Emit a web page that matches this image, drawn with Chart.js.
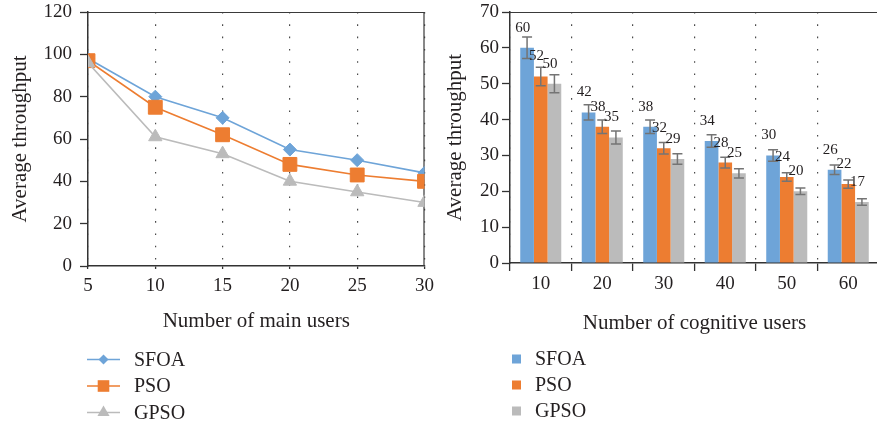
<!DOCTYPE html>
<html>
<head>
<meta charset="utf-8">
<script src="https://cdn.jsdelivr.net/npm/chart.js@4.4.1/dist/chart.umd.min.js"></script>
<style>
  html, body { margin: 0; padding: 0; background: #fff; overflow: hidden; width: 877px; height: 428px; }
  .panel { position: absolute; top: 0; }
  #panelMain { left: 0; width: 440px; height: 428px; }
  #panelCog { left: 440px; width: 441px; height: 428px; }
</style>
</head>
<body>
<div class="panel" id="panelMain"><canvas id="mainChart" width="440" height="428"></canvas></div>
<div class="panel" id="panelCog"><canvas id="cogChart" width="441" height="428"></canvas></div>
<script>
// ---- data ----
const algorithms = ['SFOA', 'PSO', 'GPSO'];

// throughput vs. number of main users
const mainUsers = [5, 10, 15, 20, 25, 30];
const sfoaMain = [98, 80, 70, 55, 50, 44];
const psoMain  = [97, 75, 62, 48, 43, 40];
const gpsoMain = [96, 61, 53, 40, 35, 30];

// throughput vs. number of cognitive users
const cognitiveUsers = ['10', '20', '30', '40', '50', '60'];
const sfoaCog = [60, 42, 38, 34, 30, 26];
const psoCog  = [52, 38, 32, 28, 24, 22];
const gpsoCog = [50, 35, 29, 25, 20, 17];
const sfoaErr = [3.0, 2.1, 1.9, 1.75, 1.6, 1.35];
const psoErr  = [2.6, 1.9, 1.6, 1.5, 1.2, 1.15];
const gpsoErr = [2.5, 1.8, 1.45, 1.3, 0.9, 0.9];

// ---- styling ----
const BLUE = '#6EA4D8', ORANGE = '#ED7D31', GRAY = '#BBBBBB';
const INK = '#231f20', AXIS = '#333333', DOTS = '#4a4a4a';
const SERIF = "'Liberation Serif', 'Times New Roman', serif";

Chart.defaults.font.family = SERIF;
Chart.defaults.color = INK;
Chart.defaults.animation = false;

function drawMarker(ctx, style, x, y, r) {
  ctx.beginPath();
  if (style === 'rectRot') {
    ctx.moveTo(x, y - r); ctx.lineTo(x + r, y); ctx.lineTo(x, y + r); ctx.lineTo(x - r, y);
  } else if (style === 'rect') {
    const s = r * Math.SQRT1_2;
    ctx.rect(x - s, y - s, 2 * s, 2 * s);
  } else if (style === 'triangle') {
    for (let k = 0; k < 3; k++) {
      const a = -Math.PI / 2 + k * 2 * Math.PI / 3;
      const px = x + r * Math.cos(a), py = y + r * Math.sin(a);
      if (k === 0) ctx.moveTo(px, py); else ctx.lineTo(px, py);
    }
  }
  ctx.closePath();
  ctx.fill();
}

// keep the value axis from pushing the plot area down
const trimTop = s => { s.paddingTop = Math.min(s.paddingTop || 0, 11); };

// thin frame along the top (and optionally right) edge of the plot area
const plotFrame = {
  id: 'plotFrame',
  beforeDatasetsDraw(chart, args, opts) {
    const { ctx, chartArea: a } = chart;
    ctx.save();
    ctx.strokeStyle = opts.color || AXIS;
    ctx.lineWidth = opts.width || 1;
    ctx.beginPath();
    ctx.moveTo(a.left, a.top + 0.5);
    ctx.lineTo(a.right, a.top + 0.5);
    if (opts.right) {
      ctx.moveTo(a.right - 0.5, a.top);
      ctx.lineTo(a.right - 0.5, a.bottom);
    }
    ctx.stroke();
    ctx.restore();
  }
};

// stacked legend under each panel
const stackedLegend = {
  id: 'stackedLegend',
  afterDraw(chart, args, opts) {
    const { ctx } = chart;
    ctx.save();
    ctx.font = opts.font;
    ctx.textBaseline = 'middle';
    ctx.textAlign = 'left';
    chart.data.datasets.forEach((ds, i) => {
      const y = opts.y0 + i * opts.step;
      ctx.fillStyle = ds.backgroundColor;
      if (opts.kind === 'line') {
        ctx.strokeStyle = ds.borderColor;
        ctx.lineWidth = 1.6;
        ctx.beginPath();
        ctx.moveTo(opts.x0, y);
        ctx.lineTo(opts.x1, y);
        ctx.stroke();
        drawMarker(ctx, ds.pointStyle, (opts.x0 + opts.x1) / 2, y, opts.markerRadius[i]);
      } else {
        ctx.fillRect(opts.x0, y - opts.box / 2, opts.box, opts.box);
      }
      ctx.fillStyle = INK;
      ctx.fillText(ds.label, opts.textX, y + 1);
    });
    ctx.restore();
  }
};

// error bars and value labels for the grouped bars
const barAnnotations = {
  id: 'barAnnotations',
  afterDatasetsDraw(chart, args, opts) {
    const { ctx } = chart;
    const yScale = chart.scales.y;
    const errs = opts.errors;
    ctx.save();
    ctx.strokeStyle = '#747474';
    ctx.lineWidth = 1.5;
    chart.data.datasets.forEach((ds, di) => {
      chart.getDatasetMeta(di).data.forEach((bar, i) => {
        const v = ds.data[i], e = errs[di][i];
        const yt = yScale.getPixelForValue(v + e);
        const yb = yScale.getPixelForValue(v - e);
        const x = bar.x, c = 5;
        ctx.beginPath();
        ctx.moveTo(x, yt); ctx.lineTo(x, yb);
        ctx.moveTo(x - c, yt); ctx.lineTo(x + c, yt);
        ctx.moveTo(x - c, yb); ctx.lineTo(x + c, yb);
        ctx.stroke();
      });
    });
    ctx.font = "15px " + SERIF;
    ctx.fillStyle = INK;
    ctx.textAlign = 'center';
    ctx.textBaseline = 'middle';
    chart.data.datasets.forEach((ds, di) => {
      chart.getDatasetMeta(di).data.forEach((bar, i) => {
        const left = bar.x - bar.width / 2;
        ctx.fillText(String(ds.data[i]), left + 2.5, bar.y - 20);
      });
    });
    ctx.restore();
  }
};

// ---- left panel: line chart ----
const toPoints = arr => arr.map((v, i) => ({ x: mainUsers[i], y: v }));
const lineStyles = [
  { color: BLUE, point: 'rectRot', r: 6.5, order: 3 },
  { color: ORANGE, point: 'rect', r: 9.8, order: 2 },
  { color: GRAY, point: 'triangle', r: 7.7, order: 1 }
];
const mainSeries = [sfoaMain, psoMain, gpsoMain];

new Chart(document.getElementById('mainChart'), {
  type: 'line',
  data: {
    datasets: mainSeries.map((s, i) => ({
      label: algorithms[i],
      data: toPoints(s),
      borderColor: lineStyles[i].color,
      backgroundColor: lineStyles[i].color,
      borderWidth: 1.6,
      pointStyle: lineStyles[i].point,
      pointRadius: lineStyles[i].r,
      pointBackgroundColor: lineStyles[i].color,
      pointBorderColor: lineStyles[i].color,
      pointBorderWidth: 1,
      tension: 0,
      order: lineStyles[i].order
    }))
  },
  options: {
    responsive: false,
    animation: false,
    layout: { padding: { top: 12, right: 15, left: 0, bottom: 0 } },
    plugins: {
      legend: { display: false },
      tooltip: { enabled: false },
      plotFrame: { right: true, color: '#3a3a3a', width: 1.2 },
      stackedLegend: {
        kind: 'line', x0: 87, x1: 120, textX: 134, y0: 359.5, step: 26.5,
        markerRadius: [5, 8.2, 7], font: "20px " + SERIF
      }
    },
    scales: {
      x: {
        type: 'linear', min: 5, max: 30,
        afterFit: s => { s.height = 162; },
        ticks: { stepSize: 5, padding: 6, font: { size: 19 }, color: INK },
        grid: { color: DOTS, lineWidth: 1.2, tickLength: 3, tickColor: AXIS, tickWidth: 1.3 },
        border: { color: AXIS, width: 1.5, dash: [1.6, 10.7] },
        title: { display: true, text: 'Number of main users', font: { size: 21 }, color: INK,
                 padding: { top: 0, bottom: 93.5 } }
      },
      y: {
        min: 0, max: 120,
        afterFit: s => { s.width = 88; trimTop(s); },
        ticks: { stepSize: 20, padding: 8, font: { size: 19 }, color: INK },
        grid: { drawOnChartArea: false, tickLength: 8, tickColor: AXIS, tickWidth: 1.3 },
        border: { color: AXIS, width: 1.5 },
        title: { display: true, text: 'Average throughput', font: { size: 21 }, color: INK,
                 padding: { top: 7.4, bottom: 0 } }
      }
    }
  },
  plugins: [plotFrame, stackedLegend]
});

// ---- right panel: grouped bar chart with error bars ----
const barColors = [BLUE, ORANGE, GRAY];
const cogSeries = [sfoaCog, psoCog, gpsoCog];

new Chart(document.getElementById('cogChart'), {
  type: 'bar',
  data: {
    labels: cognitiveUsers,
    datasets: cogSeries.map((s, i) => ({
      label: algorithms[i],
      data: s,
      backgroundColor: barColors[i],
      borderWidth: 0,
      categoryPercentage: 0.667,
      barPercentage: 1.0
    }))
  },
  options: {
    responsive: false,
    animation: false,
    layout: { padding: { top: 12, right: 2, left: 0, bottom: 0 } },
    plugins: {
      legend: { display: false },
      tooltip: { enabled: false },
      plotFrame: { right: false, color: '#3a3a3a', width: 1.2 },
      barAnnotations: { errors: [sfoaErr, psoErr, gpsoErr] },
      stackedLegend: {
        kind: 'box', x0: 72, box: 9, textX: 95, y0: 359, step: 26,
        font: "20px " + SERIF
      }
    },
    scales: {
      x: {
        afterFit: s => { s.height = 165; },
        ticks: { padding: 2, font: { size: 19 }, color: INK },
        grid: { offset: true, color: DOTS, lineWidth: 1.2, tickLength: 8, tickColor: AXIS, tickWidth: 1.3 },
        border: { color: AXIS, width: 1.5, dash: [1.6, 10.7] },
        title: { display: true, text: 'Number of cognitive users', font: { size: 21 }, color: INK,
                 padding: { top: 0, bottom: 91.5 } }
      },
      y: {
        min: 0, max: 70,
        afterFit: s => { s.width = 70; trimTop(s); },
        ticks: { stepSize: 10, padding: 3, font: { size: 19 }, color: INK },
        grid: { drawOnChartArea: false, tickLength: 8, tickColor: AXIS, tickWidth: 1.3 },
        border: { color: AXIS, width: 1.5 },
        title: { display: true, text: 'Average throughput', font: { size: 21 }, color: INK,
                 padding: { top: 2.9, bottom: 0 } }
      }
    }
  },
  plugins: [plotFrame, barAnnotations, stackedLegend]
});
</script>
</body>
</html>
